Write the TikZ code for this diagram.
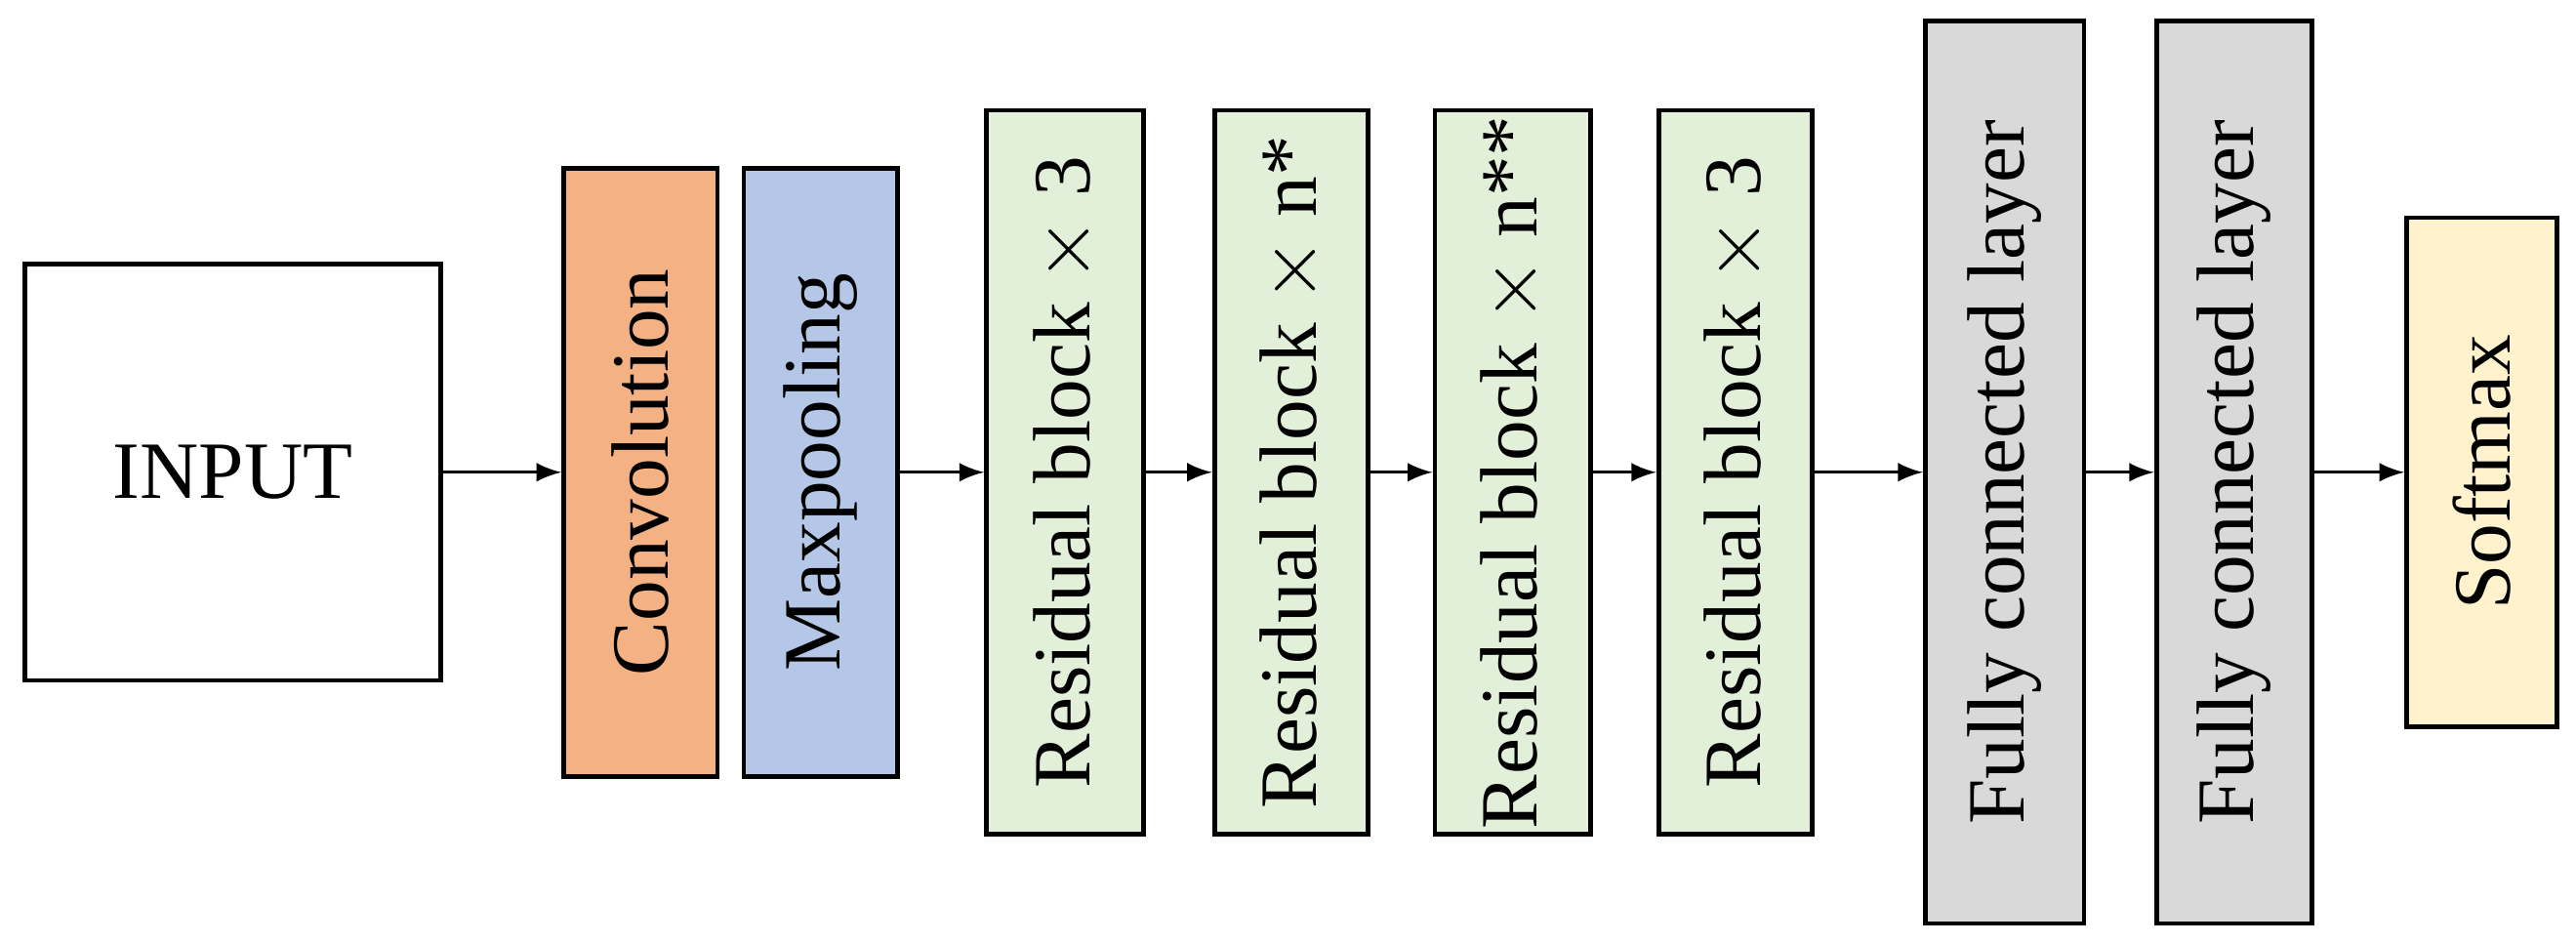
\documentclass[tikz,border=0pt]{standalone}
\usepackage{fontspec}
\setmainfont{Liberation Serif}
\usetikzlibrary{positioning}
\definecolor{convC}{HTML}{F4B183}
\definecolor{poolC}{HTML}{B4C7E7}
\definecolor{resC}{HTML}{E2F0D9}
\definecolor{fcC}{HTML}{D9D9D9}
\definecolor{softC}{HTML}{FFF2CC}
\tikzset{
  layer/.style={draw, line width=0.8pt, minimum width=0.93cm, inner sep=0pt, font=\fontsize{14}{16}\selectfont},
  vlab/.style={rotate=90},
  flow/.style={-latex, line width=0.5pt}
}
\begin{document}
\begin{tikzpicture}[x=0.01cm,y=0.01cm]
    \useasboundingbox (0,0) rectangle (1560,571);
    % Blocks
    \node[layer, minimum width=2.52cm, minimum height=2.52cm] (in) at (141,285) {INPUT};
    \node[layer, fill=convC, minimum height=3.68cm] (conv) at (388,285) {\rotatebox{90}{Convolution}};
    \node[layer, fill=poolC, minimum height=3.68cm] (pool) at (497,285) {\rotatebox{90}{Maxpooling}};
    \node[layer, fill=resC, minimum height=4.38cm, minimum width=0.95cm] (r1) at (645,285) {\rotatebox{90}{Residual block $\times$ 3}};
    \node[layer, fill=resC, minimum height=4.38cm] (r2) at (782,285) {\rotatebox{90}{Residual block $\times$ n*}};
    \node[layer, fill=resC, minimum height=4.38cm, minimum width=0.94cm] (r3) at (916,285) {\rotatebox{90}{Residual block $\times$ n**}};
    \node[layer, fill=resC, minimum height=4.38cm] (r4) at (1051,285) {\rotatebox{90}{Residual block $\times$ 3}};
    \node[layer, fill=fcC, minimum height=5.46cm, minimum width=0.96cm] (fc1) at (1214,285) {\rotatebox{90}{Fully connected layer}};
    \node[layer, fill=fcC, minimum height=5.46cm, minimum width=0.94cm] (fc2) at (1353,285) {\rotatebox{90}{Fully connected layer}};
    \node[layer, fill=softC, minimum height=3.08cm, minimum width=0.91cm] (soft) at (1503,285) {\rotatebox{90}{Softmax}};
    % Arrows
    \draw[flow] (in) -- (conv);
    \draw[flow] (pool) -- (r1);
    \draw[flow] (r1) -- (r2);
    \draw[flow] (r2) -- (r3);
    \draw[flow] (r3) -- (r4);
    \draw[flow] (r4) -- (fc1);
    \draw[flow] (fc1) -- (fc2);
    \draw[flow] (fc2) -- (soft);
\end{tikzpicture}
\end{document}
